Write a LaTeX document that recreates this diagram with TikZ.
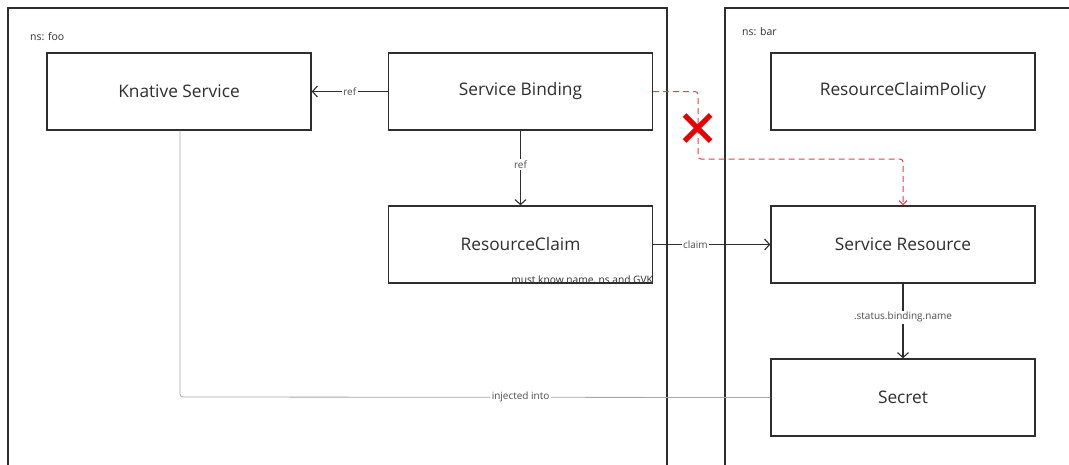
\documentclass[tikz,border=0pt]{standalone}
\usepackage{fontspec}
\setmainfont{Open Sans}
\usetikzlibrary{arrows.meta}
\definecolor{ink}{HTML}{2E2E2E}
\definecolor{dashred}{HTML}{E0404F}
\definecolor{xred}{HTML}{E60000}
\begin{document}
\begin{tikzpicture}[x=1pt,y=-1pt,
  box/.style={draw=ink,line width=1.4pt,minimum width=264pt,minimum height=77pt,inner sep=0pt,font=\fontsize{17.3}{20}\selectfont,text=ink},
  frame/.style={draw=ink,line width=1.4pt},
  conn/.style={draw=ink,line width=1.1pt,-{Straight Barb[length=5pt,width=11pt]}},
  lbl/.style={fill=white,inner sep=1.5pt,font=\fontsize{10}{12}\selectfont,text=ink!85},
  nslbl/.style={font=\fontsize{10.5}{12}\selectfont,text=ink,anchor=west,inner sep=0pt}
]
\useasboundingbox (0,0) rectangle (1069,464);
\fill[white] (0,0) rectangle (1069,464);
% frames
\draw[frame] (8,470) -- (8,8) -- (667,8) -- (667,470);
\draw[frame] (725,470) -- (725,8) -- (1080,8);
\node[nslbl] (nsfoo) at (30,37) {ns: foo};
\node[nslbl] (nsbar) at (742,32) {ns: bar};
% boxes
\node[box] (ks) at (179,91.5) {Knative Service};
\node[box] (sb) at (520.5,91.5) {Service Binding};
\node[box] (rc) at (520.5,244.5) {ResourceClaim};
\node[box] (rcp) at (903,91.5) {ResourceClaimPolicy};
\node[box] (sr) at (903,244.5) {Service Resource};
\node[box] (sec) at (903,397.5) {Secret};
\node[anchor=south east,inner sep=0pt,font=\fontsize{10.2}{12}\selectfont,text=ink] (must) at ([xshift=0pt,yshift=-1.5pt]rc.south east) {must know name, ns and GVK};
% connectors
\draw[conn] (sb.west) -- node[lbl]{ref} (ks.east);
\draw[conn] (sb.south) -- node[lbl,pos=0.45]{ref} (rc.north);
\draw[conn] (rc.east) -- node[lbl,pos=0.36]{claim} (sr.west);
\draw[conn] (sr.south) -- node[lbl,pos=0.45]{.status.binding.name} (sec.north);
\coordinate (c1) at (180,397);
\draw[draw=black!35,line width=0.8pt,rounded corners=3pt] ([xshift=1pt]ks.south) -- (c1) -- node[lbl,pos=0.577]{injected into} (sec.west);
% dashed red
\coordinate (d1) at (698,91.5);
\coordinate (d2) at (698,159);
\coordinate (d3) at (903,159);
\draw[dashred,line width=1pt,dash pattern=on 6pt off 4pt,rounded corners=3pt,-{Straight Barb[length=4pt,width=8pt]}] (sb.east) -- (d1) -- (d2) -- (d3) -- (sr.north);
% red X
\coordinate (xc) at (697.5,128);
\draw[xred,line width=5pt] ([shift={(-13,-13)}]xc) -- ([shift={(13,13)}]xc);
\draw[xred,line width=5pt] ([shift={(-13,13)}]xc) -- ([shift={(13,-13)}]xc);
\end{tikzpicture}
\end{document}
